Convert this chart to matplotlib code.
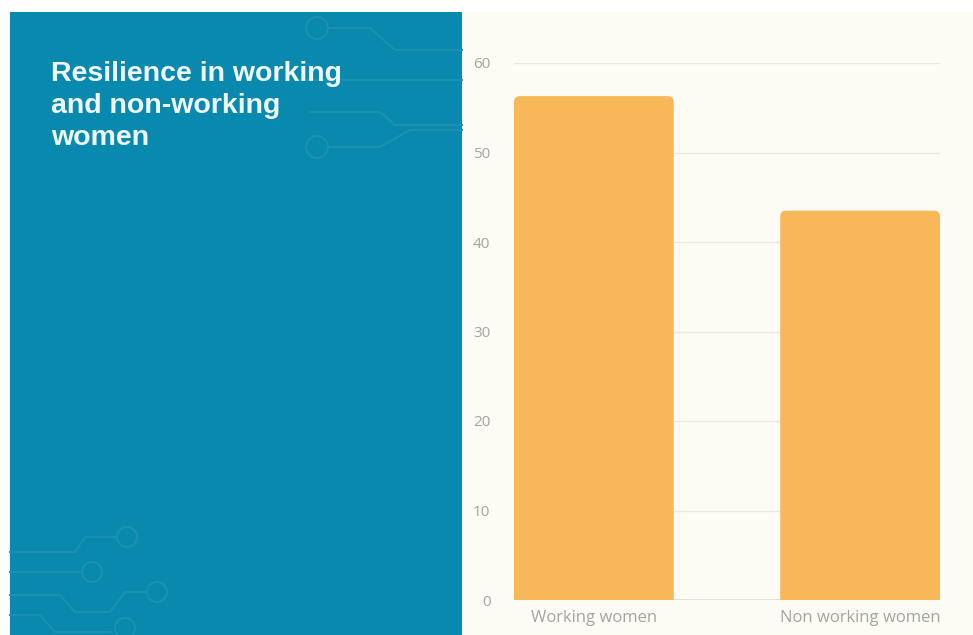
import matplotlib.pyplot as plt
from matplotlib.patches import Rectangle, FancyBboxPatch, Ellipse
from matplotlib.lines import Line2D

categories = ['Working women', 'Non working women']
values = [56.3, 43.5]
yticks = [0, 10, 20, 30, 40, 50, 60]

W, H = 973, 635
fig = plt.figure(figsize=(W / 100, H / 100), dpi=100)
fig.patch.set_facecolor('white')


def fx(px):
    return px / W


def fy(py):
    return 1 - py / H


# background panels
fig.patches.append(Rectangle((fx(10), 0), fx(462 - 10), fy(12), transform=fig.transFigure,
                             facecolor='#0A89AF', edgecolor='none', zorder=-2))
fig.patches.append(Rectangle((fx(462), 0), fx(W - 462), fy(12), transform=fig.transFigure,
                             facecolor='#FCFCF5', edgecolor='none', zorder=-2))

# faint circuit decoration
deco = '#1D90B5'
lines = [
    [(330, 28), (370, 28), (395, 50), (462, 50)],
    [(300, 80), (462, 80)],
    [(310, 112), (380, 112), (395, 125), (462, 125)],
    [(330, 147), (380, 147), (410, 130), (462, 130)],
    [(10, 552), (75, 552), (85, 537), (115, 537)],
    [(10, 572), (80, 572)],
    [(10, 595), (60, 595), (75, 612), (110, 612), (125, 592), (145, 592)],
    [(10, 615), (40, 615), (55, 632), (110, 632)],
]
for pts in lines:
    xs = [fx(p[0]) for p in pts]
    ys = [fy(p[1]) for p in pts]
    fig.add_artist(Line2D(xs, ys, transform=fig.transFigure, color=deco, lw=1.4, zorder=-1))
for cx, cy, r in [(317, 28, 11), (317, 147, 11), (127, 537, 10), (92, 572, 10),
                  (157, 592, 10), (125, 628, 10)]:
    fig.add_artist(Ellipse((fx(cx), fy(cy)), 2 * r / W, 2 * r / H, transform=fig.transFigure,
                           facecolor='none', edgecolor=deco, lw=1.4, zorder=-1))

fig.text(fx(51), fy(61), 'Resilience in working\nand non-working\nwomen',
         color='#EEF8FA', fontsize=20.5, fontweight='bold', family='Liberation Sans',
         va='top', ha='left', linespacing=1.3)

ax = fig.add_axes([fx(514), fy(600), fx(940 - 514), (600 - 63) / H])
ax.set_zorder(2)
ax.set_facecolor('none')
x = list(range(len(categories)))
bars = ax.bar(x, values, width=0.6, color='#F9B857', zorder=3)
ax.set_xlim(-0.3, 1.3)
ax.set_ylim(0, 60)

# rounded top corners
x_per_px = 1.6 / (940 - 514)
y_per_px = 60 / (600 - 63)
for b in bars:
    b.set_visible(False)
    r = 6 * x_per_px
    p = FancyBboxPatch((b.get_x(), -2), b.get_width(), b.get_height() + 2,
                       boxstyle=f'round,pad=0,rounding_size={r}',
                       mutation_aspect=y_per_px / x_per_px,
                       facecolor='#F9B857', edgecolor='none', zorder=3)
    ax.add_patch(p)

ax.set_yticks(yticks)
ax.set_xticks(x)
ax.set_xticklabels(categories)
ax.grid(axis='y', color='#E9E9E2', lw=1, zorder=0)
ax.axhline(0, color='#DCDCD6', lw=1.2, zorder=2)
for s in ax.spines.values():
    s.set_visible(False)
ax.tick_params(axis='x', length=0, colors='#A3A3A3', labelsize=12, pad=7)
ax.tick_params(axis='y', length=0, colors='#A3A3A3', labelsize=11, pad=17)
for t in ax.get_xticklabels() + ax.get_yticklabels():
    t.set_family('Open Sans')

fig.savefig('out.png', dpi=100, facecolor='white')
